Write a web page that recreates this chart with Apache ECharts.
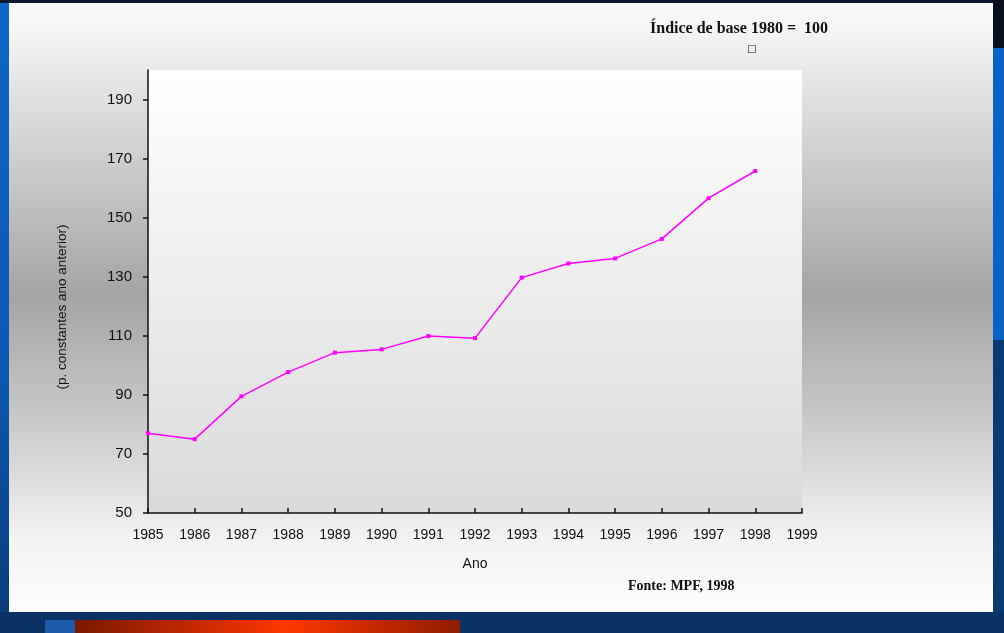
<!DOCTYPE html>
<html>
<head>
<meta charset="utf-8">
<script src="https://cdn.jsdelivr.net/npm/echarts@6/dist/echarts.min.js"></script>
<style>
html,body{margin:0;padding:0;background:#0b3466;}
#chart{width:1004px;height:633px;}
</style>
</head>
<body>
<div id="chart"></div>
<script>
const years = [1985,1986,1987,1988,1989,1990,1991,1992,1993,1994,1995,1996,1997,1998];
const indexValues = [77,75,89.5,97.7,104.3,105.4,109.9,109.2,129.7,134.5,136.2,142.8,156.6,165.8];
const yTickValues = [50,70,90,110,130,150,170,190];
const titleText = 'Índice de base 1980 =  100';
const sourceText = 'Fonte: MPF, 1998';
const yAxisName = '(p. constantes ano anterior)';
const xAxisName = 'Ano';

const seriesData = years.map((y, i) => [y, indexValues[i]]);

const chart = echarts.init(document.getElementById('chart'), null, {renderer: 'canvas'});
const lin = (stops) => ({type: 'linear', x: 0, y: 0, x2: 0, y2: 1, colorStops: stops});
const linH = (stops) => ({type: 'linear', x: 0, y: 0, x2: 1, y2: 0, colorStops: stops});
const sans = '"Liberation Sans", Arial, sans-serif';
const serif = '"Liberation Serif", "DejaVu Serif", serif';

chart.setOption({
  animation: false,
  backgroundColor: '#0b3466',
  graphic: [
    {type: 'rect', z: -20, shape: {x: 0, y: 0, width: 10, height: 633},
     style: {fill: lin([{offset: 0, color: '#0c66c8'}, {offset: 0.6, color: '#0b58b0'}, {offset: 1, color: '#0a3a74'}])}},
    {type: 'rect', z: -20, shape: {x: 0, y: 0, width: 1004, height: 3}, style: {fill: '#0a1a30'}},
    {type: 'rect', z: -20, shape: {x: 993, y: 0, width: 11, height: 48}, style: {fill: '#0a0f1e'}},
    {type: 'rect', z: -20, shape: {x: 993, y: 48, width: 11, height: 292}, style: {fill: '#0a62c4'}},
    {type: 'rect', z: -20, shape: {x: 993, y: 340, width: 11, height: 293}, style: {fill: '#0a3a72'}},
    {type: 'rect', z: -20, shape: {x: 9, y: 3, width: 984, height: 609},
     style: {fill: lin([
       {offset: 0, color: '#fbfbfb'}, {offset: 0.06, color: '#f2f2f2'},
       {offset: 0.25, color: '#cfcfcf'}, {offset: 0.48, color: '#a4a4a4'},
       {offset: 0.7, color: '#cccccc'}, {offset: 0.88, color: '#f3f3f3'},
       {offset: 1, color: '#fdfdfd'}])}},
    {type: 'rect', z: -20, shape: {x: 0, y: 612, width: 1004, height: 21}, style: {fill: '#0a3264'}},
    {type: 'rect', z: -20, shape: {x: 45, y: 620, width: 30, height: 13}, style: {fill: '#1a5aa8'}},
    {type: 'rect', z: -20, shape: {x: 75, y: 620, width: 385, height: 13},
     style: {fill: linH([{offset: 0, color: '#7a1800'}, {offset: 0.55, color: '#ff3600'}, {offset: 1, color: '#8e1c00'}])}},
    {type: 'text', left: 650, top: 21,
     style: {text: titleText, font: 'bold 16px ' + serif, fill: '#111'}},
    {type: 'text', left: 747, top: 44,
     style: {text: '□', font: '10px "DejaVu Sans", sans-serif', fill: '#111'}},
    {type: 'text', left: 628, top: 579,
     style: {text: sourceText, font: 'bold 14px ' + serif, fill: '#111'}},
    {type: 'text', x: 62, y: 307, rotation: Math.PI / 2,
     style: {text: yAxisName, font: '13.5px ' + sans, fill: '#111', align: 'center', verticalAlign: 'middle'}}
  ],
  grid: {
    left: 148, top: 70, width: 654, height: 443,
    show: true, borderWidth: 0,
    backgroundColor: lin([{offset: 0, color: '#ffffff'}, {offset: 1, color: '#dadada'}])
  },
  xAxis: {
    type: 'value', min: 1985, max: 1999, interval: 1,
    name: xAxisName, nameLocation: 'middle', nameGap: 44,
    nameTextStyle: {fontFamily: sans, fontSize: 14, color: '#111'},
    axisLine: {show: true, lineStyle: {color: '#111', width: 1.5}},
    axisTick: {show: true, inside: true, length: 5, lineStyle: {color: '#111', width: 1.5}},
    axisLabel: {formatter: v => String(v), color: '#111', fontSize: 14, margin: 15, fontFamily: sans},
    splitLine: {show: false}
  },
  yAxis: {
    type: 'value', min: 50, max: 200,
    axisLine: {show: true, lineStyle: {color: '#111', width: 1.5}},
    axisTick: {show: true, length: 5, customValues: yTickValues, lineStyle: {color: '#111', width: 1.5}},
    axisLabel: {customValues: yTickValues, color: '#111', fontSize: 15, margin: 16, fontFamily: sans},
    splitLine: {show: false}
  },
  series: [{
    type: 'line',
    name: yAxisName,
    data: seriesData,
    symbol: 'rect', symbolSize: 4,
    lineStyle: {color: '#ff00ff', width: 1.5},
    itemStyle: {color: '#ff00ff'}
  }]
});
</script>
</body>
</html>
